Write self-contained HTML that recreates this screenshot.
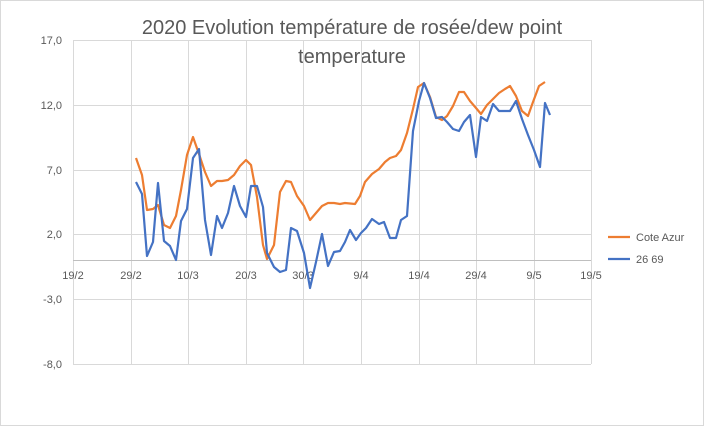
<!DOCTYPE html>
<html><head><meta charset="utf-8"><style>
body{margin:0;background:#fff}
svg{display:block;font-family:"Liberation Sans",sans-serif}
</style></head><body>
<svg width="704" height="426" viewBox="0 0 704 426">
<rect x="0.5" y="0.5" width="703" height="425" fill="#fff" stroke="#d9d9d9"/>
<text x="352" y="34" text-anchor="middle" font-size="20" fill="#595959">2020 Evolution température de rosée/dew point</text>
<text x="352" y="63" text-anchor="middle" font-size="20" fill="#595959">temperature</text>
<g stroke="#d9d9d9" stroke-width="1">
<line x1="73" y1="40.5" x2="591" y2="40.5"/>
<line x1="73" y1="105.5" x2="591" y2="105.5"/>
<line x1="73" y1="170.5" x2="591" y2="170.5"/>
<line x1="73" y1="234.5" x2="591" y2="234.5"/>
<line x1="73" y1="299.5" x2="591" y2="299.5"/>
<line x1="73" y1="364.5" x2="591" y2="364.5"/>
<line x1="73.5" y1="40" x2="73.5" y2="364"/>
<line x1="131.5" y1="40" x2="131.5" y2="364"/>
<line x1="188.5" y1="40" x2="188.5" y2="364"/>
<line x1="246.5" y1="40" x2="246.5" y2="364"/>
<line x1="303.5" y1="40" x2="303.5" y2="364"/>
<line x1="361.5" y1="40" x2="361.5" y2="364"/>
<line x1="419.5" y1="40" x2="419.5" y2="364"/>
<line x1="476.5" y1="40" x2="476.5" y2="364"/>
<line x1="534.5" y1="40" x2="534.5" y2="364"/>
<line x1="591.5" y1="40" x2="591.5" y2="364"/>
<line x1="73" y1="260.5" x2="591" y2="260.5" stroke="#bfbfbf"/>
</g>
<g font-size="11" fill="#595959" text-anchor="end">
<text x="62" y="44">17,0</text>
<text x="62" y="109">12,0</text>
<text x="62" y="174">7,0</text>
<text x="62" y="238">2,0</text>
<text x="62" y="303">-3,0</text>
<text x="62" y="368">-8,0</text>
</g>
<g font-size="11" fill="#595959" text-anchor="middle">
<text x="73" y="279">19/2</text>
<text x="131" y="279">29/2</text>
<text x="188" y="279">10/3</text>
<text x="246" y="279">20/3</text>
<text x="303" y="279">30/3</text>
<text x="361" y="279">9/4</text>
<text x="419" y="279">19/4</text>
<text x="476" y="279">29/4</text>
<text x="534" y="279">9/5</text>
<text x="591" y="279">19/5</text>
</g>
<polyline fill="none" stroke="#ed7d31" stroke-width="2.2" stroke-linejoin="round" points="136,158 142,175 147,210 153,209 158,205 164,225 170,228 176,216 181,190 187,155 193,137 199,154 205,172 211,186 217,181 222,181 228,180 234,175 240,166 246,160 251,165 257,197 263,245 267,259 274,245 280,192 286,181 291,182 297,196 304,206 310,220 316,213 322,206 328,203 334,203 340,204 345,203 355,204 360,196 365,182 372,174 379,169 385,162 390,158 396,156 401,150 407,133 413,109 418,87 424,83 430,97 436,117 442,120 447,116 453,106 459,92 464,92 470,101 476,108 481,114 487,105 493,99 499,93 505,89 510,86 516,96 522,111 528,116 533,102 539,86 545,82"/>
<polyline fill="none" stroke="#4472c4" stroke-width="2.2" stroke-linejoin="round" points="136,182 142,194 147,256 153,242 158,183 164,241 170,246 176,260 181,221 187,209 193,158 199,149 205,220 211,255 217,216 222,228 228,213 234,186 240,206 246,217 251,186 257,186 263,207 267,253 274,267 280,272 286,270 291,228 297,231 304,253 310,288 316,262 322,234 328,266 334,252 340,251 345,242 350,230 356,240 361,233 366,228 372,219 379,224 384,222 390,238 396,238 401,220 407,216 413,131 419,101 424,83 430,98 436,118 442,117 447,122 453,129 459,131 464,122 470,115 476,157 481,117 487,121 493,104 499,111 505,111 510,111 516,101 522,119 528,135 534,150 540,167 545,103 550,115"/>
<line x1="608" y1="237" x2="630" y2="237" stroke="#ed7d31" stroke-width="2.2"/>
<text x="636" y="241" font-size="11" fill="#595959">Cote Azur</text>
<line x1="608" y1="259" x2="630" y2="259" stroke="#4472c4" stroke-width="2.2"/>
<text x="636" y="263" font-size="11" fill="#595959">26 69</text>
</svg>
</body></html>
